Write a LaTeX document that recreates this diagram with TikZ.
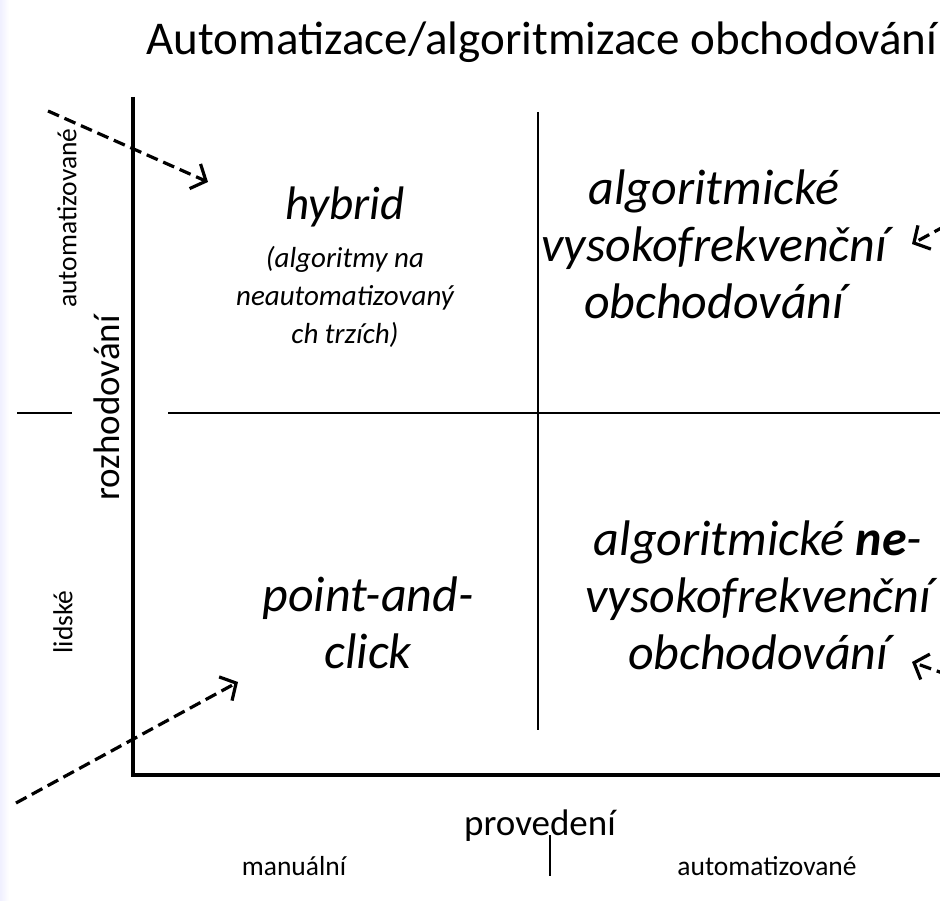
\documentclass[tikz,border=0pt]{standalone}
\usepackage{fontspec}
\setmainfont{Carlito}
\usetikzlibrary{arrows.meta}
\begin{document}
\begin{tikzpicture}[x=1pt,y=-1pt,
  axisline/.style={line width=4pt},
  divline/.style={line width=2.5pt},
  tickline/.style={line width=2.5pt},
  dasharrow/.style={line width=3.2pt,dash pattern=on 12pt off 6pt,-{Straight Barb[length=12pt,width=27pt,line width=3.2pt]}},
  bigital/.style={font=\fontsize{50}{57}\selectfont\itshape,align=center,inner sep=0pt},
  hybital/.style={font=\fontsize{47}{57}\selectfont\itshape,align=center,inner sep=0pt},
  smallital/.style={font=\fontsize{29}{38}\selectfont\itshape,align=center,inner sep=0pt},
  smalllab/.style={font=\fontsize{27.5}{32}\selectfont,inner sep=0pt},
  axislab/.style={font=\fontsize{37}{44}\selectfont,inner sep=0pt},
  titlelab/.style={font=\fontsize{47}{55}\selectfont,inner sep=0pt}
]
\useasboundingbox (0,0) rectangle (940,901);
\fill[left color=blue!6,right color=white] (0,0) rectangle (9,901);

% title
\node[titlelab] (title) at (542,42) {Automatizace/algoritmizace obchodování};

% axes
\coordinate (ytop) at (133,97);
\coordinate (origin) at (133,775);
\coordinate (xend) at (940,775);
\draw[axisline,line join=miter] (ytop) -- (origin) -- (xend);

% inner dividers
\coordinate (vtop) at (538,112);
\coordinate (vbot) at (538,730);
\coordinate (hleft) at (168,413);
\coordinate (hright) at (940,413);
\draw[divline] (vtop) -- (vbot);
\draw[divline] (hleft) -- (hright);

% ticks
\coordinate (lt1) at (17,413);
\coordinate (lt2) at (72,413);
\draw[tickline] (lt1) -- (lt2);
\coordinate (bt1) at (550,835);
\coordinate (bt2) at (550,876);
\draw[tickline] (bt1) -- (bt2);

% axis labels
\node[smalllab,rotate=90] (yauto) at (67,218) {automatizované};
\node[axislab,rotate=90] (yrozh) at (107,408) {rozhodování};
\node[smalllab,rotate=90] (ylid) at (63,622) {lidské};
\node[axislab] (xprov) at (540,826) {provedení};
\node[smalllab] (xman) at (294,866) {manuální};
\node[smalllab] (xauto) at (767,866) {automatizované};

% quadrants
\node[hybital] (hyb) at (345,207) {hybrid};
\node[smallital] (hybsub) at (345,297) {(algoritmy na\\neautomatizovaný\\ch trzích)};
\node[bigital] (hft) at (714,244) {algoritmické\\vysokofrekvenční\\obchodování};
\node[bigital] (nhft) at (758,595) {algoritmické \textbf{ne}-\\vysokofrekvenční\\obchodování};
\node[bigital] (pac) at (368,623) {point-and-\\click};

% dashed arrows
\coordinate (a1s) at (48,111);
\coordinate (a1e) at (208,182);
\draw[dasharrow] (a1s) -- (a1e);
\coordinate (a2s) at (16,803);
\coordinate (a2e) at (238,682);
\draw[dasharrow] (a2s) -- (a2e);
\coordinate (a3s) at (945,226);
\coordinate (a3e) at (912,244);
\draw[dasharrow] (a3s) -- (a3e);
\coordinate (a4s) at (948,675);
\coordinate (a4e) at (912,662);
\draw[dasharrow] (a4s) -- (a4e);
\end{tikzpicture}
\end{document}
